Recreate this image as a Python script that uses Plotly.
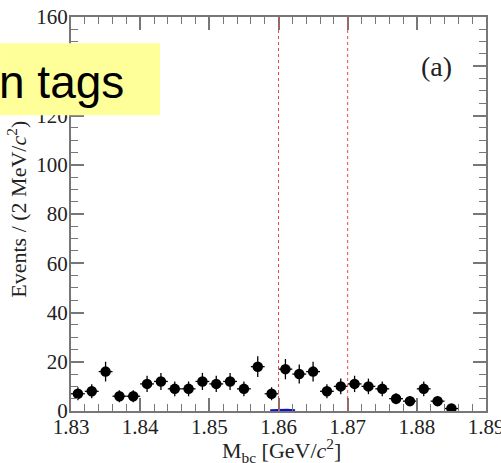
import plotly.graph_objects as go

# Bin centers (2 MeV bins) and event counts
mbc = [1.831, 1.833, 1.835, 1.837, 1.839, 1.841, 1.843, 1.845, 1.847, 1.849,
       1.851, 1.853, 1.855, 1.857, 1.859, 1.861, 1.863, 1.865, 1.867, 1.869,
       1.871, 1.873, 1.875, 1.877, 1.879, 1.881, 1.883, 1.885]
events = [7, 8, 16, 6, 6, 11, 12, 9, 9, 12,
          11, 12, 9, 18, 7, 17, 15, 16, 8, 10,
          11, 10, 9, 5, 4, 9, 4, 1]
bin_half = 0.001

# small fitted signal curve near zero
sig_x = [1.8588, 1.8600, 1.8612, 1.8624]
sig_y = [0.3, 0.5, 0.5, 0.3]

# signal window
window = [1.86, 1.87]

x_ticks = [1.83, 1.84, 1.85, 1.86, 1.87, 1.88, 1.89]
y_ticks = [0, 20, 40, 60, 80, 100, 120, 140, 160]

errs = [v ** 0.5 for v in events]

fig = go.Figure()
fig.add_trace(go.Scatter(
    x=sig_x, y=sig_y, mode="lines",
    line=dict(color="#1010cc", width=2), showlegend=False, hoverinfo="skip"))
fig.add_trace(go.Scatter(
    x=mbc, y=events, mode="markers",
    marker=dict(color="black", size=10.5),
    error_y=dict(type="data", array=errs, color="black", thickness=1.3, width=0),
    error_x=dict(type="constant", value=bin_half, color="black", thickness=1.3, width=0),
    showlegend=False))

for xv in window:
    fig.add_shape(type="line", x0=xv, x1=xv, y0=0, y1=1, xref="x", yref="paper",
                  line=dict(color="#ee4444", width=1, dash="dot"))

serif = "Liberation Serif"
axis_common = dict(
    showline=True, linecolor="#777", linewidth=2, mirror="allticks",
    ticks="inside", ticklen=13, tickwidth=1.5, tickcolor="#777",
    showgrid=False, zeroline=False, ticklabeloverflow="allow", automargin=False,
    tickfont=dict(family=serif, size=21, color="#222"),
)

fig.update_layout(
    width=501, height=463,
    margin=dict(l=71, r=15, t=17, b=52),
    plot_bgcolor="white", paper_bgcolor="white",
    xaxis=dict(range=[1.83, 1.89], tickvals=x_ticks,
               ticktext=[f"{v:.2f}" for v in x_ticks], ticklabelstandoff=-4,
               minor=dict(dtick=0.002, ticks="inside", ticklen=7, tickcolor="#777", tickwidth=1),
               **axis_common),
    yaxis=dict(range=[0, 160], tickvals=y_ticks, ticklabelstandoff=-3,
               minor=dict(dtick=5, ticks="inside", ticklen=7, tickcolor="#777", tickwidth=1),
               **axis_common),
)

# axis titles
fig.add_annotation(x=0.508, y=-0.101, xref="paper", yref="paper",
                   text="M<sub>bc</sub> [GeV/<i>c</i><sup>2</sup>]",
                   xanchor="center", yanchor="middle", showarrow=False,
                   font=dict(family=serif, size=22, color="#222"))
fig.add_annotation(x=-0.129, y=0.512, xref="paper", yref="paper",
                   text="Events / (2 MeV/<i>c</i><sup>2</sup>)", textangle=-90,
                   xanchor="center", yanchor="middle", showarrow=False,
                   font=dict(family=serif, size=22, color="#222"))

fig.add_annotation(x=0.88, y=0.875, xref="paper", yref="paper", text="(a)",
                   xanchor="center", yanchor="middle",
                   showarrow=False, font=dict(family=serif, size=28, color="#222"))

# overlay label box
fig.add_shape(type="rect", xref="paper", yref="paper",
              x0=-0.171, x1=0.2145, y0=0.7507, y1=0.9333,
              fillcolor="#ffff99", line=dict(width=0), layer="above")
fig.add_annotation(x=0.1325, y=0.835, xref="paper", yref="paper", text="n tags",
                   xanchor="right", yanchor="middle", showarrow=False,
                   font=dict(family="Liberation Sans", size=46, color="black"))

fig.write_html("out.html")
